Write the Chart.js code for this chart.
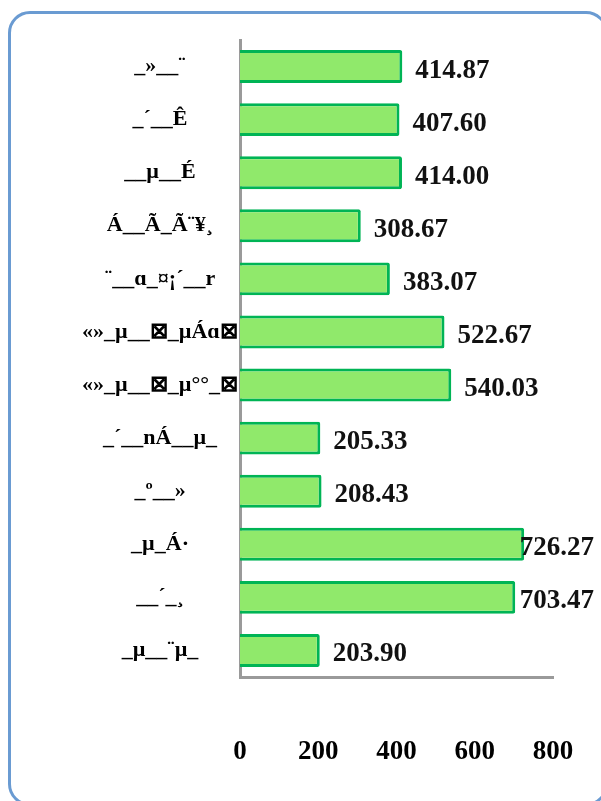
<!DOCTYPE html>
<html>
<head>
<meta charset="utf-8">
<script src="https://cdn.jsdelivr.net/npm/chart.js@4"></script>
<style>
  html, body { margin: 0; padding: 0; background: #fff; }
  #wrap { position: relative; width: 601px; height: 801px; overflow: hidden; }
  #frame {
    position: absolute; left: 8px; top: 11px; width: 600px; height: 795px;
    border: 3px solid #6a9bd2; border-radius: 22px; box-sizing: border-box;
  }
  #chart { position: absolute; left: 0; top: 0; }
</style>
</head>
<body>
<div id="wrap">
  <div id="frame"></div>
  <canvas id="chart" width="601" height="801"></canvas>
</div>
<script>
// Horizontal bar chart, garbled category names kept as they appear.

const categories = [
  "_»__¨",
  "_´__Ê",
  "__µ__É",
  "Á__Ã_Ã¨¥¸",
  "¨__ɑ_¤¡´__r",
  "«»_µ__⊠_µÁɑ⊠",
  "«»_µ__⊠_µ°°_⊠",
  "_´__nÁ__µ_",
  "_º__»",
  "_µ_Á·",
  "__´_¸",
  "_µ__¨µ_",
];

const values = [
  414.87, 407.60, 414.00, 308.67, 383.07, 522.67,
  540.03, 205.33, 208.43, 726.27, 703.47, 203.90,
];

const xTicks = [0, 200, 400, 600, 800];

const FONT = "'Liberation Serif', 'Times New Roman', serif";
const AXIS = "#9a9a9a";

// value labels to the right of each bar, pushed back inside the frame when they'd overflow
const valueLabels = {
  id: "valueLabels",
  afterDatasetsDraw(chart) {
    const { ctx } = chart;
    const meta = chart.getDatasetMeta(0);
    ctx.save();
    ctx.font = `bold 27px ${FONT}`;
    ctx.fillStyle = "#111";
    ctx.textBaseline = "middle";
    ctx.textAlign = "left";
    meta.data.forEach((bar, i) => {
      const txt = values[i].toFixed(2);
      const w = ctx.measureText(txt).width;
      let x = bar.x + 13;
      if (x + w > 594) x = 594 - w;
      ctx.fillText(txt, x, bar.y + 4);
    });
    ctx.restore();
  },
};

new Chart(document.getElementById("chart"), {
  type: "bar",
  data: {
    labels: categories,
    datasets: [{
      data: values,
      backgroundColor: "#90e96b",
      borderColor: "#00b455",
      borderWidth: 3,
      borderRadius: 2,
      barPercentage: 0.62,
      categoryPercentage: 1,
    }],
  },
  options: {
    indexAxis: "y",
    responsive: false,
    animation: false,
    devicePixelRatio: 1,
    layout: { padding: { left: 0, right: 48, top: 40, bottom: 33 } },
    plugins: { legend: { display: false }, tooltip: { enabled: false } },
    scales: {
      x: {
        min: 0,
        max: 800,
        afterBuildTicks: (s) => { s.ticks = xTicks.map((v) => ({ value: v })); },
        afterFit: (s) => { s.height = 91; s.paddingLeft = 0; s.paddingRight = 0; },
        grid: { display: false, drawTicks: false },
        border: { display: true, color: AXIS, width: 3 },
        ticks: { padding: 59, color: "#000", font: { family: FONT, size: 27, weight: "bold" } },
      },
      y: {
        afterFit: (s) => { s.width = 240; },
        grid: { display: false, drawTicks: false },
        border: { display: true, color: AXIS, width: 3 },
        ticks: {
          crossAlign: "center",
          padding: 2,
          color: "#000",
          font: { family: FONT, size: 22, weight: "bold" },
        },
      },
    },
  },
  plugins: [valueLabels],
});
</script>
</body>
</html>
